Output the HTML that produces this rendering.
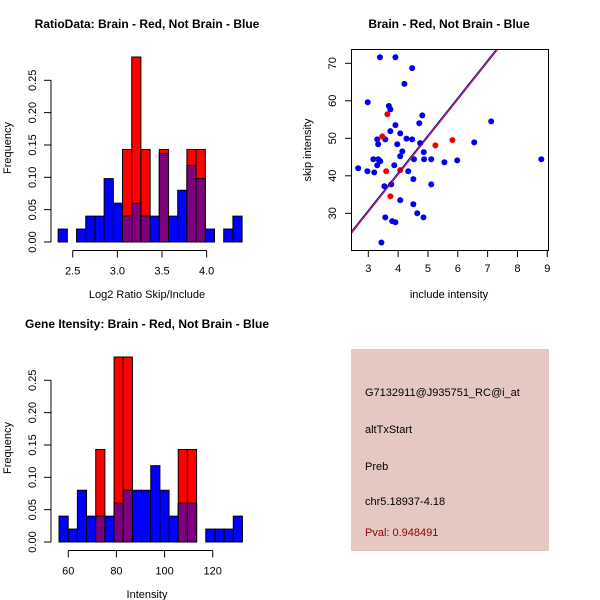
<!DOCTYPE html>
<html><head><meta charset="utf-8"><style>
html,body{margin:0;padding:0;background:#fff;}
svg{display:block;font-family:"Liberation Sans",Arial,sans-serif;}
</style></head><body>
<svg id="chart" width="600" height="600" viewBox="0 0 600 600">
<rect x="0" y="0" width="600" height="600" fill="#fff"/>
<g id="p1"></g>
<g id="p2"></g>
<g id="p3"></g>
<g>
<rect x="351" y="349" width="198" height="202" fill="#e6c8c2"/>
<text x="365" y="396" font-size="11" fill="#000">G7132911@J935751_RC@i_at</text>
<text x="365" y="433" font-size="11" fill="#000">altTxStart</text>
<text x="365" y="470" font-size="11" fill="#000">Preb</text>
<text x="365" y="505" font-size="11" fill="#000">chr5.18937-4.18</text>
<text x="365" y="536" font-size="11" fill="#8b0000">Pval: 0.948491</text>
</g>
</svg>
<script>
// ---- data ----
const ratioBlue = [0.02,0,0.02,0.04,0.04,0.098,0.06,0.04,0.06,0.04,0.04,0.137,0.04,0.08,0.118,0.098,0.02,0,0.02,0.04];
const ratioRed  = [0,0,0,0,0,0,0,0.143,0.286,0.143,0,0.143,0,0,0.143,0.143,0,0,0,0];
const ratioTicks = ["2.5","3.0","3.5","4.0"];
const ratioTickVals = [2.5,3.0,3.5,4.0];
const geneBlue = [0.04,0.02,0.08,0.04,0.04,0.04,0.06,0.08,0.08,0.08,0.118,0.08,0.04,0.06,0.06,0,0.02,0.02,0.02,0.04];
const geneRed  = [0,0,0,0,0.143,0,0.286,0.286,0,0,0,0,0,0.143,0.143,0,0,0,0,0];
const geneTicks = ["60","80","100","120"];
const geneTickVals = [60,80,100,120];
const freqTicks = ["0.00","0.05","0.10","0.15","0.20","0.25"];
const freqTickVals = [0,0.05,0.1,0.15,0.2,0.25];
const blueX = [3.39,3.91,4.47,4.21,2.98,3.69,3.74,4.81,7.12,4.71,3.91,3.74,4.07,4.28,3.30,3.57,4.47,6.55,4.74,3.33,3.97,4.14,4.86,4.07,3.17,3.33,4.53,4.87,5.11,5.98,8.80,3.40,5.55,3.30,3.87,2.66,2.97,3.20,4.34,4.51,3.54,3.77,5.11,4.07,4.51,4.64,3.57,3.80,3.91,4.85,3.44];
const blueY = [71.6,71.6,68.7,64.5,59.6,58.6,57.7,56.1,54.5,54.0,53.5,51.9,51.3,49.9,49.7,49.7,49.7,48.9,48.7,48.4,48.4,46.5,46.3,45.2,44.4,44.4,44.4,44.4,44.4,44.1,44.4,43.9,43.6,42.8,42.8,42.0,41.2,40.9,41.2,39.1,37.2,37.7,37.7,33.5,32.4,30.0,28.9,27.9,27.6,28.9,22.2];
const redX = [3.64,3.47,5.25,5.82,3.60,4.07,3.74];
const redY = [56.4,50.5,48.1,49.5,41.2,41.5,34.5];
const fitBlue = [0.8,10.0];
const fitRed = [0.3,10.0];
const scatXTicks = [3,4,5,6,7,8,9];
const scatYTicks = [30,40,50,60,70];

const NS="http://www.w3.org/2000/svg";
function mk(parent,tag,attrs){const e=document.createElementNS(NS,tag);for(const k in attrs)e.setAttribute(k,attrs[k]);parent.appendChild(e);return e;}

function histogram(g,blue,red,title,xlabel,ticks,tickVals,xmin,binW,x0px,x1axis,yOff){
  const nb=blue.length;
  const xs=v=>x0px.px+(v-x0px.v)*x0px.s;
  const ys=v=>yOff+242-v*646.8;
  const t=mk(g,'text',{x:147,y:yOff+28,'font-size':12,'font-weight':'bold','text-anchor':'middle'});t.textContent=title;
  
  
  for(let i=0;i<nb;i++){
    const a=xs(xmin+i*binW),b=xs(xmin+(i+1)*binW);
    const layers=[[blue[i],'#0000ff'],[red[i],'#ff0000'],[Math.min(blue[i],red[i]),'#7f007f']];
    layers.forEach((L,j)=>{ if(L[0]>0){
      const r=mk(g,'rect',{x:a,y:ys(L[0]),width:b-a,height:ys(0)-ys(L[0]),fill:L[1],stroke:'#000','stroke-width':1});
      
      
    }});
  }
  const ya=mk(g,'line',{x1:51,x2:51,y1:ys(0),y2:ys(0.25),stroke:'#000'});
  
  
  freqTickVals.forEach((v,i)=>{
    mk(g,'line',{x1:44,x2:51,y1:ys(v),y2:ys(v),stroke:'#000'});
    const tl=mk(g,'text',{x:0,y:0,'font-size':11,'text-anchor':'middle',transform:`translate(36,${ys(v)}) rotate(-90)`});
    tl.textContent=freqTicks[i];
    
    
  });
  const yl=mk(g,'text',{x:0,y:0,'font-size':11,'text-anchor':'middle',transform:`translate(11,${yOff+148}) rotate(-90)`});
  yl.textContent='Frequency';
  
  
  const ay=yOff+250.5;
  const xa=mk(g,'line',{x1:xs(tickVals[0]),x2:xs(tickVals[tickVals.length-1]),y1:ay,y2:ay,stroke:'#000'});
  
  
  tickVals.forEach((v,i)=>{
    mk(g,'line',{x1:xs(v),x2:xs(v),y1:ay,y2:ay+7,stroke:'#000'});
    const tl=mk(g,'text',{x:xs(v),y:ay+24,'font-size':11,'text-anchor':'middle'});
    tl.textContent=ticks[i];
    
    
  });
  const xl=mk(g,'text',{x:147,y:yOff+298,'font-size':11,'text-anchor':'middle'});
  xl.textContent=xlabel;
  
  
}
histogram(document.getElementById('p1'),ratioBlue,ratioRed,'RatioData: Brain - Red, Not Brain - Blue','Log2 Ratio Skip/Include',ratioTicks,ratioTickVals,2.337,0.103,{px:72.7,v:2.5,s:89.3},0,0);
histogram(document.getElementById('p3'),geneBlue,geneRed,'Gene Itensity: Brain - Red, Not Brain - Blue','Intensity',geneTicks,geneTickVals,56.15,3.81,{px:68.3,v:60,s:2.407},0,300);

(function(){
  const g=document.getElementById('p2');
  const xs=v=>368.3+(v-3)*29.83, ys=v=>63.3+(70-v)*3.75;
  const t=mk(g,'text',{x:449,y:28,'font-size':12,'font-weight':'bold','text-anchor':'middle'});t.textContent='Brain - Red, Not Brain - Blue';
  
  
  const defs=mk(g,'defs',{});const cp=mk(defs,'clipPath',{id:'sc'});mk(cp,'rect',{x:351,y:49,width:197,height:201});
  blueX.forEach((x,i)=>{const c=mk(g,'circle',{cx:xs(x),cy:ys(blueY[i]),r:3,fill:'#0000ee'});
    
    });
  redX.forEach((x,i)=>{const c=mk(g,'circle',{cx:xs(x),cy:ys(redY[i]),r:3,fill:'#ee0000'});
    
    });
  [[fitBlue,'#0000aa','fit-line-blue'],[fitRed,'#cc0033','fit-line-red']].forEach(f=>{
    const l=mk(g,'line',{x1:xs(2),y1:ys(f[0][0]+f[0][1]*2),x2:xs(9),y2:ys(f[0][0]+f[0][1]*9),stroke:f[1],'stroke-width':1,'clip-path':'url(#sc)'});
    
    
  });
  const box=mk(g,'rect',{x:351.5,y:49.5,width:197,height:201,fill:'none',stroke:'#000'});
  
  
  scatXTicks.forEach(v=>{mk(g,'line',{x1:xs(v),x2:xs(v),y1:250.5,y2:257,stroke:'#000'});
    const tl=mk(g,'text',{x:xs(v),y:272,'font-size':11,'text-anchor':'middle'});tl.textContent=v;
    
    });
  scatYTicks.forEach(v=>{mk(g,'line',{x1:345,x2:351.5,y1:ys(v),y2:ys(v),stroke:'#000'});
    const tl=mk(g,'text',{x:0,y:0,'font-size':11,'text-anchor':'middle',transform:`translate(336,${ys(v)}) rotate(-90)`});tl.textContent=v;
    
    });
  const xl=mk(g,'text',{x:449,y:298,'font-size':11,'text-anchor':'middle'});xl.textContent='include intensity';
  
  
  const yl=mk(g,'text',{x:0,y:0,'font-size':11,'text-anchor':'middle',transform:'translate(311,150) rotate(-90)'});yl.textContent='skip intensity';
  
  
})();
</script>
</body></html>
